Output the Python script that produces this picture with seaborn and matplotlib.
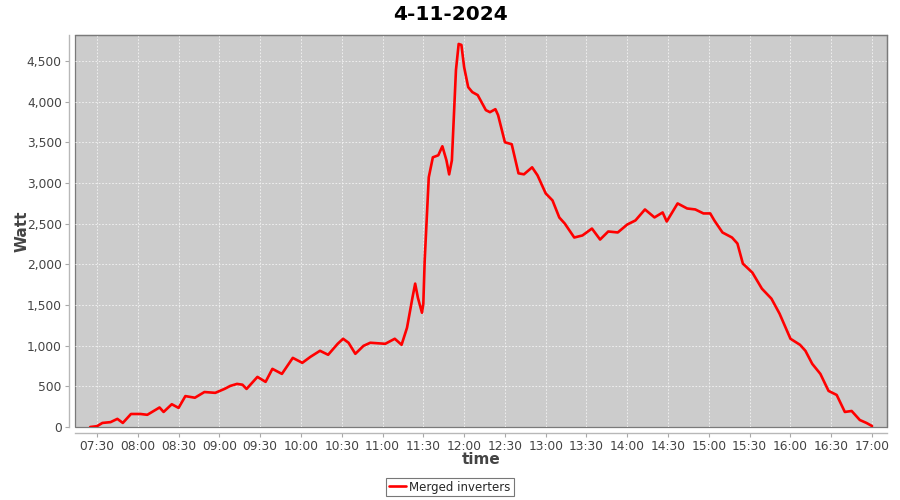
# Daily power curve of the merged inverters

import pandas as pd
import matplotlib
matplotlib.use("Agg")
import matplotlib.pyplot as plt
import matplotlib.dates as mdates
import matplotlib.ticker as mticker
import seaborn as sns

DAY = "2024-11-04"

times = [
    "07:25", "07:30", "07:34", "07:40", "07:45", "07:49", "07:55", "08:02",
    "08:07", "08:13", "08:16", "08:19", "08:25", "08:30", "08:35", "08:42",
    "08:49", "08:57", "09:04", "09:08", "09:13", "09:17", "09:20", "09:28",
    "09:34", "09:39", "09:46", "09:54", "10:01", "10:07", "10:14", "10:20",
    "10:27", "10:31", "10:35", "10:40", "10:46", "10:51", "11:02", "11:09",
    "11:14", "11:18", "11:22", "11:24", "11:26", "11:29", "11:30", "11:31",
    "11:34", "11:37", "11:41", "11:44", "11:47", "11:49", "11:51", "11:54",
    "11:56", "11:58", "12:00", "12:03", "12:06", "12:10", "12:16", "12:19",
    "12:23", "12:25", "12:30", "12:35", "12:40", "12:44", "12:50", "12:54",
    "13:00", "13:05", "13:10", "13:14", "13:21", "13:27", "13:34", "13:40",
    "13:46", "13:53", "14:00", "14:06", "14:13", "14:20", "14:26", "14:29",
    "14:37", "14:44", "14:50", "14:56", "15:01", "15:04", "15:10", "15:17",
    "15:21", "15:25", "15:32", "15:39", "15:46", "15:52", "16:00", "16:07",
    "16:11", "16:16", "16:22", "16:28", "16:34", "16:40", "16:45", "16:51",
    "16:56", "17:00",
]

watt = [
    0, 10, 50, 60, 100, 50, 160, 160,
    150, 210, 240, 185, 280, 235, 380, 360,
    430, 420, 470, 505, 530, 520, 468, 616,
    555, 715, 653, 850, 789, 863, 937, 888,
    1023, 1085, 1036, 900, 998, 1036, 1023, 1085,
    1011, 1220, 1590, 1763, 1590, 1405, 1516, 2046,
    3070, 3316, 3341, 3452, 3279, 3106, 3279, 4389,
    4710, 4698, 4426, 4179, 4118, 4081, 3896, 3871,
    3908, 3834, 3501, 3477, 3119, 3107, 3193, 3094,
    2872, 2786, 2576, 2502, 2330, 2355, 2440, 2305,
    2404, 2392, 2490, 2540, 2675, 2577, 2638, 2527,
    2749, 2687, 2675, 2626, 2626, 2540, 2392, 2330,
    2256, 2009, 1898, 1701, 1578, 1393, 1085, 1011,
    937, 777, 653, 444, 394, 185, 197, 86,
    49, 12,
]

df = pd.DataFrame({"time": pd.to_datetime([f"{DAY} {t}" for t in times]),
                   "watt": watt})

sns.set_theme(style="white")
plt.rcParams["font.family"] = ["DejaVu Sans"]

fig = plt.figure(figsize=(9, 5), dpi=100)
ax = fig.add_axes([75 / 900, 73 / 500, 812 / 900, 392 / 500])
ax.set_facecolor("#cccccc")

sns.lineplot(data=df, x="time", y="watt", color="#ff0000", linewidth=1.9,
             ax=ax, label="Merged inverters", legend=False)

ax.set_xlim(pd.Timestamp(f"{DAY} 07:13:50"), pd.Timestamp(f"{DAY} 17:11:00"))
ax.set_ylim(0, 4820)

ax.xaxis.set_major_locator(mdates.MinuteLocator(byminute=[0, 30]))
ax.xaxis.set_major_formatter(mdates.DateFormatter("%H:%M"))
ax.yaxis.set_major_locator(mticker.MultipleLocator(500))
ax.yaxis.set_major_formatter(mticker.StrMethodFormatter("{x:,.0f}"))

# Grid lines: white dashed, like the java chart
ax.grid(True, color="#f4f4f4", linestyle=(0, (2, 2)), linewidth=0.6)

# Axis lines offset from the plot, plot outline in gray
for side in ["left", "bottom"]:
    ax.spines[side].set_position(("outward", 4))
    ax.spines[side].set_color("#b8b8b8")
    ax.spines[side].set_linewidth(1)
for side in ["top", "right"]:
    ax.spines[side].set_color("#7a7a7a")
    ax.spines[side].set_linewidth(0.9)
ax.patch.set_edgecolor("#7a7a7a")
ax.patch.set_linewidth(0.9)

ax.tick_params(axis="both", which="major", length=3, width=0.8,
               color="#a8a8a8", labelsize=8.8, labelcolor="#444444",
               bottom=True, left=True, pad=2.5)

ax.set_xlabel("time", fontsize=11, fontweight="bold", color="#444444",
              labelpad=-1)
ax.set_ylabel("Watt", fontsize=11, fontweight="bold", color="#444444",
              labelpad=-2)
fig.suptitle("4-11-2024", x=0.5, y=0.99, fontsize=14.5, fontweight="heavy",
             color="black")

handles, labels = ax.get_legend_handles_labels()
leg = fig.legend(handles, labels, loc="center", bbox_to_anchor=(0.5, 0.026),
                 fontsize=8.5, frameon=True, fancybox=False, handlelength=1.4,
                 handletextpad=0.3, borderpad=0.25, borderaxespad=0)
leg.get_frame().set_edgecolor("#555555")
leg.get_frame().set_linewidth(0.8)

plt.savefig("out.png", dpi=100)
